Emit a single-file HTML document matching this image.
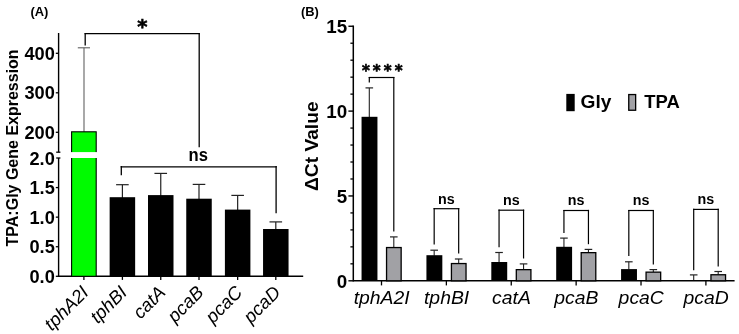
<!DOCTYPE html>
<html><head><meta charset="utf-8"><title>Figure</title>
<style>
html,body{margin:0;padding:0;background:#fff;}
svg{display:block;font-family:"Liberation Sans",Arial,Helvetica,sans-serif;}
</style></head><body>
<svg width="739" height="334" viewBox="0 0 739 334">
<rect width="739" height="334" fill="#fff"/>
<text transform="translate(30.40,15.80) scale(1.0,1.0)" font-size="12.9" font-weight="bold" font-style="normal" text-anchor="start">(A)</text>
<line x1="58.60" y1="33.00" x2="58.60" y2="152.20" stroke="#000" stroke-width="1.4"/>
<line x1="58.60" y1="158.00" x2="58.60" y2="277.00" stroke="#000" stroke-width="1.4"/>
<line x1="55.80" y1="132.30" x2="58.60" y2="132.30" stroke="#000" stroke-width="1.3"/>
<text transform="translate(54.80,138.80) scale(1.0,1.0)" font-size="18.2" font-weight="bold" font-style="normal" text-anchor="end">200</text>
<line x1="55.80" y1="92.80" x2="58.60" y2="92.80" stroke="#000" stroke-width="1.3"/>
<text transform="translate(54.80,99.30) scale(1.0,1.0)" font-size="18.2" font-weight="bold" font-style="normal" text-anchor="end">300</text>
<line x1="55.80" y1="53.30" x2="58.60" y2="53.30" stroke="#000" stroke-width="1.3"/>
<text transform="translate(54.80,59.80) scale(1.0,1.0)" font-size="18.2" font-weight="bold" font-style="normal" text-anchor="end">400</text>
<line x1="56.20" y1="152.20" x2="60.40" y2="152.20" stroke="#000" stroke-width="1.3"/>
<line x1="56.20" y1="158.00" x2="60.40" y2="158.00" stroke="#000" stroke-width="1.3"/>
<line x1="55.80" y1="276.30" x2="58.60" y2="276.30" stroke="#000" stroke-width="1.3"/>
<text transform="translate(54.80,282.80) scale(1.0,1.0)" font-size="18.2" font-weight="bold" font-style="normal" text-anchor="end">0.0</text>
<line x1="55.80" y1="246.73" x2="58.60" y2="246.73" stroke="#000" stroke-width="1.3"/>
<text transform="translate(54.80,253.23) scale(1.0,1.0)" font-size="18.2" font-weight="bold" font-style="normal" text-anchor="end">0.5</text>
<line x1="55.80" y1="217.15" x2="58.60" y2="217.15" stroke="#000" stroke-width="1.3"/>
<text transform="translate(54.80,223.65) scale(1.0,1.0)" font-size="18.2" font-weight="bold" font-style="normal" text-anchor="end">1.0</text>
<line x1="55.80" y1="187.58" x2="58.60" y2="187.58" stroke="#000" stroke-width="1.3"/>
<text transform="translate(54.80,194.08) scale(1.0,1.0)" font-size="18.2" font-weight="bold" font-style="normal" text-anchor="end">1.5</text>
<text transform="translate(54.80,164.50) scale(1.0,1.0)" font-size="18.2" font-weight="bold" font-style="normal" text-anchor="end">2.0</text>
<line x1="57.90" y1="276.30" x2="303.20" y2="276.30" stroke="#000" stroke-width="1.5"/>
<text x="0.00" y="0.00" font-size="16" font-weight="bold" font-style="normal" text-anchor="middle" transform="translate(17.6,147.9) rotate(-90)">TPA:Gly Gene Expression</text>
<line x1="84.00" y1="47.80" x2="84.00" y2="132.00" stroke="#7a7a7a" stroke-width="1.3"/>
<line x1="77.80" y1="47.80" x2="90.00" y2="47.80" stroke="#5e5e5e" stroke-width="1.1"/>
<rect x="71.60" y="131.80" width="24.60" height="144.50" fill="#00fb00" stroke="#000" stroke-width="1.1"/>
<rect x="69.00" y="152.10" width="30.00" height="5.90" fill="#fff"/>
<line x1="122.40" y1="184.70" x2="122.40" y2="198.20" stroke="#222" stroke-width="1.2"/>
<line x1="116.10" y1="184.70" x2="128.70" y2="184.70" stroke="#222" stroke-width="1.2"/>
<rect x="109.65" y="197.20" width="25.50" height="79.10" fill="#000"/>
<line x1="160.75" y1="173.40" x2="160.75" y2="196.10" stroke="#222" stroke-width="1.2"/>
<line x1="154.45" y1="173.40" x2="167.05" y2="173.40" stroke="#222" stroke-width="1.2"/>
<rect x="148.00" y="195.10" width="25.50" height="81.20" fill="#000"/>
<line x1="199.00" y1="184.40" x2="199.00" y2="199.70" stroke="#222" stroke-width="1.2"/>
<line x1="192.70" y1="184.40" x2="205.30" y2="184.40" stroke="#222" stroke-width="1.2"/>
<rect x="186.25" y="198.70" width="25.50" height="77.60" fill="#000"/>
<line x1="237.65" y1="195.40" x2="237.65" y2="210.60" stroke="#222" stroke-width="1.2"/>
<line x1="231.35" y1="195.40" x2="243.95" y2="195.40" stroke="#222" stroke-width="1.2"/>
<rect x="224.90" y="209.60" width="25.50" height="66.70" fill="#000"/>
<line x1="275.80" y1="221.90" x2="275.80" y2="230.00" stroke="#222" stroke-width="1.2"/>
<line x1="269.50" y1="221.90" x2="282.10" y2="221.90" stroke="#222" stroke-width="1.2"/>
<rect x="263.05" y="229.00" width="25.50" height="47.30" fill="#000"/>
<line x1="83.90" y1="276.30" x2="83.90" y2="279.90" stroke="#000" stroke-width="1.3"/>
<text x="0.00" y="0.00" font-size="18.5" font-weight="normal" font-style="italic" text-anchor="end" transform="translate(89.7,293.6) rotate(-45)">tphA2I</text>
<line x1="122.40" y1="276.30" x2="122.40" y2="279.90" stroke="#000" stroke-width="1.3"/>
<text x="0.00" y="0.00" font-size="18.5" font-weight="normal" font-style="italic" text-anchor="end" transform="translate(128.2,293.6) rotate(-45)">tphBI</text>
<line x1="160.75" y1="276.30" x2="160.75" y2="279.90" stroke="#000" stroke-width="1.3"/>
<text x="0.00" y="0.00" font-size="18.5" font-weight="normal" font-style="italic" text-anchor="end" transform="translate(166.6,293.6) rotate(-45)">catA</text>
<line x1="199.00" y1="276.30" x2="199.00" y2="279.90" stroke="#000" stroke-width="1.3"/>
<text x="0.00" y="0.00" font-size="18.5" font-weight="normal" font-style="italic" text-anchor="end" transform="translate(204.8,293.6) rotate(-45)">pcaB</text>
<line x1="237.65" y1="276.30" x2="237.65" y2="279.90" stroke="#000" stroke-width="1.3"/>
<text x="0.00" y="0.00" font-size="18.5" font-weight="normal" font-style="italic" text-anchor="end" transform="translate(243.5,293.6) rotate(-45)">pcaC</text>
<line x1="275.80" y1="276.30" x2="275.80" y2="279.90" stroke="#000" stroke-width="1.3"/>
<text x="0.00" y="0.00" font-size="18.5" font-weight="normal" font-style="italic" text-anchor="end" transform="translate(281.6,293.6) rotate(-45)">pcaD</text>
<line x1="85.20" y1="45.50" x2="85.20" y2="33.00" stroke="#000" stroke-width="1.3"/>
<line x1="84.60" y1="33.70" x2="199.80" y2="33.70" stroke="#000" stroke-width="1.3"/>
<line x1="199.20" y1="33.00" x2="199.20" y2="147.30" stroke="#000" stroke-width="1.3"/>
<text x="142.4" y="32.9" font-family="DejaVu Sans, sans-serif" font-size="19.5" font-weight="bold" text-anchor="middle" stroke="#000" stroke-width="0.6">*</text>
<text transform="translate(198.20,161.10) scale(0.95,1.0)" font-size="17.5" font-weight="bold" font-style="normal" text-anchor="middle">ns</text>
<line x1="121.30" y1="175.20" x2="121.30" y2="166.10" stroke="#000" stroke-width="1.3"/>
<line x1="120.70" y1="166.80" x2="276.70" y2="166.80" stroke="#000" stroke-width="1.3"/>
<line x1="276.10" y1="166.10" x2="276.10" y2="213.30" stroke="#000" stroke-width="1.3"/>
<text transform="translate(300.90,15.80) scale(1.0,1.0)" font-size="12.9" font-weight="bold" font-style="normal" text-anchor="start">(B)</text>
<line x1="353.30" y1="25.55" x2="353.30" y2="281.50" stroke="#000" stroke-width="1.5"/>
<line x1="348.40" y1="280.80" x2="353.30" y2="280.80" stroke="#000" stroke-width="1.4"/>
<text transform="translate(347.20,287.50) scale(1.0,1.0)" font-size="18.8" font-weight="bold" font-style="normal" text-anchor="end">0</text>
<line x1="350.40" y1="263.83" x2="353.30" y2="263.83" stroke="#000" stroke-width="1.3"/>
<line x1="350.40" y1="246.86" x2="353.30" y2="246.86" stroke="#000" stroke-width="1.3"/>
<line x1="350.40" y1="229.89" x2="353.30" y2="229.89" stroke="#000" stroke-width="1.3"/>
<line x1="350.40" y1="212.92" x2="353.30" y2="212.92" stroke="#000" stroke-width="1.3"/>
<line x1="348.40" y1="195.95" x2="353.30" y2="195.95" stroke="#000" stroke-width="1.4"/>
<text transform="translate(347.20,202.65) scale(1.0,1.0)" font-size="18.8" font-weight="bold" font-style="normal" text-anchor="end">5</text>
<line x1="350.40" y1="178.98" x2="353.30" y2="178.98" stroke="#000" stroke-width="1.3"/>
<line x1="350.40" y1="162.01" x2="353.30" y2="162.01" stroke="#000" stroke-width="1.3"/>
<line x1="350.40" y1="145.04" x2="353.30" y2="145.04" stroke="#000" stroke-width="1.3"/>
<line x1="350.40" y1="128.07" x2="353.30" y2="128.07" stroke="#000" stroke-width="1.3"/>
<line x1="348.40" y1="111.10" x2="353.30" y2="111.10" stroke="#000" stroke-width="1.4"/>
<text transform="translate(347.20,117.80) scale(1.0,1.0)" font-size="18.8" font-weight="bold" font-style="normal" text-anchor="end">10</text>
<line x1="350.40" y1="94.13" x2="353.30" y2="94.13" stroke="#000" stroke-width="1.3"/>
<line x1="350.40" y1="77.16" x2="353.30" y2="77.16" stroke="#000" stroke-width="1.3"/>
<line x1="350.40" y1="60.19" x2="353.30" y2="60.19" stroke="#000" stroke-width="1.3"/>
<line x1="350.40" y1="43.22" x2="353.30" y2="43.22" stroke="#000" stroke-width="1.3"/>
<line x1="348.40" y1="26.25" x2="353.30" y2="26.25" stroke="#000" stroke-width="1.4"/>
<text transform="translate(347.20,32.95) scale(1.0,1.0)" font-size="18.8" font-weight="bold" font-style="normal" text-anchor="end">15</text>
<line x1="353.30" y1="280.80" x2="734.60" y2="280.80" stroke="#000" stroke-width="1.5"/>
<text x="0.00" y="0.00" font-size="19.2" font-weight="bold" font-style="normal" text-anchor="middle" transform="translate(318.2,146.2) rotate(-90)">ΔCt Value</text>
<line x1="369.30" y1="87.90" x2="369.30" y2="117.30" stroke="#222" stroke-width="1.1"/>
<line x1="365.50" y1="87.90" x2="373.10" y2="87.90" stroke="#222" stroke-width="1.2"/>
<rect x="361.55" y="116.80" width="15.90" height="164.00" fill="#000"/>
<line x1="393.80" y1="236.90" x2="393.80" y2="247.40" stroke="#222" stroke-width="1.1"/>
<line x1="390.00" y1="236.90" x2="397.60" y2="236.90" stroke="#222" stroke-width="1.2"/>
<rect x="386.55" y="247.55" width="14.60" height="33.25" fill="#a1a1a5" stroke="#000" stroke-width="1.3"/>
<line x1="381.50" y1="280.80" x2="381.50" y2="285.40" stroke="#000" stroke-width="1.3"/>
<text transform="translate(381.70,304.00) scale(1.1,1.0)" font-size="17.6" font-weight="normal" font-style="italic" text-anchor="middle">tphA2I</text>
<line x1="369.30" y1="82.40" x2="369.30" y2="76.90" stroke="#000" stroke-width="1.2"/>
<line x1="368.70" y1="77.50" x2="394.40" y2="77.50" stroke="#000" stroke-width="1.2"/>
<line x1="393.80" y1="76.90" x2="393.80" y2="231.40" stroke="#000" stroke-width="1.2"/>
<line x1="434.18" y1="250.20" x2="434.18" y2="255.70" stroke="#222" stroke-width="1.1"/>
<line x1="430.38" y1="250.20" x2="437.98" y2="250.20" stroke="#222" stroke-width="1.2"/>
<rect x="426.43" y="255.20" width="15.90" height="25.60" fill="#000"/>
<line x1="458.68" y1="259.00" x2="458.68" y2="263.40" stroke="#222" stroke-width="1.1"/>
<line x1="454.88" y1="259.00" x2="462.48" y2="259.00" stroke="#222" stroke-width="1.2"/>
<rect x="451.43" y="263.55" width="14.60" height="17.25" fill="#a1a1a5" stroke="#000" stroke-width="1.3"/>
<line x1="446.38" y1="280.80" x2="446.38" y2="285.40" stroke="#000" stroke-width="1.3"/>
<text transform="translate(446.58,304.00) scale(1.1,1.0)" font-size="17.6" font-weight="normal" font-style="italic" text-anchor="middle">tphBI</text>
<line x1="434.18" y1="244.40" x2="434.18" y2="208.10" stroke="#000" stroke-width="1.2"/>
<line x1="433.58" y1="208.70" x2="459.28" y2="208.70" stroke="#000" stroke-width="1.2"/>
<line x1="458.68" y1="208.10" x2="458.68" y2="253.40" stroke="#000" stroke-width="1.2"/>
<line x1="499.06" y1="252.50" x2="499.06" y2="262.50" stroke="#222" stroke-width="1.1"/>
<line x1="495.26" y1="252.50" x2="502.86" y2="252.50" stroke="#222" stroke-width="1.2"/>
<rect x="491.31" y="262.00" width="15.90" height="18.80" fill="#000"/>
<line x1="523.56" y1="263.90" x2="523.56" y2="269.50" stroke="#222" stroke-width="1.1"/>
<line x1="519.76" y1="263.90" x2="527.36" y2="263.90" stroke="#222" stroke-width="1.2"/>
<rect x="516.31" y="269.65" width="14.60" height="11.15" fill="#a1a1a5" stroke="#000" stroke-width="1.3"/>
<line x1="511.26" y1="280.80" x2="511.26" y2="285.40" stroke="#000" stroke-width="1.3"/>
<text transform="translate(511.46,304.00) scale(1.1,1.0)" font-size="17.6" font-weight="normal" font-style="italic" text-anchor="middle">catA</text>
<line x1="499.06" y1="247.20" x2="499.06" y2="209.60" stroke="#000" stroke-width="1.2"/>
<line x1="498.46" y1="210.20" x2="524.16" y2="210.20" stroke="#000" stroke-width="1.2"/>
<line x1="523.56" y1="209.60" x2="523.56" y2="258.50" stroke="#000" stroke-width="1.2"/>
<line x1="563.94" y1="238.10" x2="563.94" y2="247.30" stroke="#222" stroke-width="1.1"/>
<line x1="560.14" y1="238.10" x2="567.74" y2="238.10" stroke="#222" stroke-width="1.2"/>
<rect x="556.19" y="246.80" width="15.90" height="34.00" fill="#000"/>
<line x1="588.44" y1="249.40" x2="588.44" y2="252.50" stroke="#222" stroke-width="1.1"/>
<line x1="584.64" y1="249.40" x2="592.24" y2="249.40" stroke="#222" stroke-width="1.2"/>
<rect x="581.19" y="252.65" width="14.60" height="28.15" fill="#a1a1a5" stroke="#000" stroke-width="1.3"/>
<line x1="576.14" y1="280.80" x2="576.14" y2="285.40" stroke="#000" stroke-width="1.3"/>
<text transform="translate(576.34,304.00) scale(1.1,1.0)" font-size="17.6" font-weight="normal" font-style="italic" text-anchor="middle">pcaB</text>
<line x1="563.94" y1="232.90" x2="563.94" y2="209.90" stroke="#000" stroke-width="1.2"/>
<line x1="563.34" y1="210.50" x2="589.04" y2="210.50" stroke="#000" stroke-width="1.2"/>
<line x1="588.44" y1="209.90" x2="588.44" y2="244.20" stroke="#000" stroke-width="1.2"/>
<line x1="628.82" y1="261.80" x2="628.82" y2="269.60" stroke="#222" stroke-width="1.1"/>
<line x1="625.02" y1="261.80" x2="632.62" y2="261.80" stroke="#222" stroke-width="1.2"/>
<rect x="621.07" y="269.10" width="15.90" height="11.70" fill="#000"/>
<line x1="653.32" y1="269.60" x2="653.32" y2="272.00" stroke="#222" stroke-width="1.1"/>
<line x1="649.52" y1="269.60" x2="657.12" y2="269.60" stroke="#222" stroke-width="1.2"/>
<rect x="646.07" y="272.15" width="14.60" height="8.65" fill="#a1a1a5" stroke="#000" stroke-width="1.3"/>
<line x1="641.02" y1="280.80" x2="641.02" y2="285.40" stroke="#000" stroke-width="1.3"/>
<text transform="translate(641.22,304.00) scale(1.1,1.0)" font-size="17.6" font-weight="normal" font-style="italic" text-anchor="middle">pcaC</text>
<line x1="628.82" y1="256.00" x2="628.82" y2="209.90" stroke="#000" stroke-width="1.2"/>
<line x1="628.22" y1="210.50" x2="653.92" y2="210.50" stroke="#000" stroke-width="1.2"/>
<line x1="653.32" y1="209.90" x2="653.32" y2="264.40" stroke="#000" stroke-width="1.2"/>
<line x1="693.70" y1="274.90" x2="693.70" y2="280.50" stroke="#222" stroke-width="1.1"/>
<line x1="689.90" y1="274.90" x2="697.50" y2="274.90" stroke="#222" stroke-width="1.2"/>
<rect x="685.95" y="280.00" width="15.90" height="0.80" fill="#000"/>
<line x1="718.20" y1="271.50" x2="718.20" y2="274.60" stroke="#222" stroke-width="1.1"/>
<line x1="714.40" y1="271.50" x2="722.00" y2="271.50" stroke="#222" stroke-width="1.2"/>
<rect x="710.95" y="274.75" width="14.60" height="6.05" fill="#a1a1a5" stroke="#000" stroke-width="1.3"/>
<line x1="705.90" y1="280.80" x2="705.90" y2="285.40" stroke="#000" stroke-width="1.3"/>
<text transform="translate(706.10,304.00) scale(1.1,1.0)" font-size="17.6" font-weight="normal" font-style="italic" text-anchor="middle">pcaD</text>
<line x1="693.70" y1="270.20" x2="693.70" y2="208.80" stroke="#000" stroke-width="1.2"/>
<line x1="693.10" y1="209.40" x2="718.80" y2="209.40" stroke="#000" stroke-width="1.2"/>
<line x1="718.20" y1="208.80" x2="718.20" y2="266.50" stroke="#000" stroke-width="1.2"/>
<text x="383.8" y="76.0" font-family="DejaVu Sans, sans-serif" font-size="15" font-weight="bold" text-anchor="middle" letter-spacing="3.1" stroke="#000" stroke-width="0.6">****</text>
<text transform="translate(446.38,203.60) scale(1.0,1.0)" font-size="14.3" font-weight="bold" font-style="normal" text-anchor="middle">ns</text>
<text transform="translate(511.26,204.50) scale(1.0,1.0)" font-size="14.3" font-weight="bold" font-style="normal" text-anchor="middle">ns</text>
<text transform="translate(576.14,204.70) scale(1.0,1.0)" font-size="14.3" font-weight="bold" font-style="normal" text-anchor="middle">ns</text>
<text transform="translate(641.02,204.70) scale(1.0,1.0)" font-size="14.3" font-weight="bold" font-style="normal" text-anchor="middle">ns</text>
<text transform="translate(705.90,203.90) scale(1.0,1.0)" font-size="14.3" font-weight="bold" font-style="normal" text-anchor="middle">ns</text>
<rect x="566.30" y="93.90" width="8.40" height="17.30" fill="#000"/>
<text transform="translate(580.60,107.70) scale(1.06,1.0)" font-size="18.1" font-weight="bold" font-style="normal" text-anchor="start">Gly</text>
<rect x="628.75" y="94.55" width="6.90" height="15.70" fill="#a1a1a5" stroke="#000" stroke-width="1.3"/>
<text transform="translate(644.20,107.70) scale(1.02,1.0)" font-size="18.1" font-weight="bold" font-style="normal" text-anchor="start">TPA</text>
</svg>
</body></html>
